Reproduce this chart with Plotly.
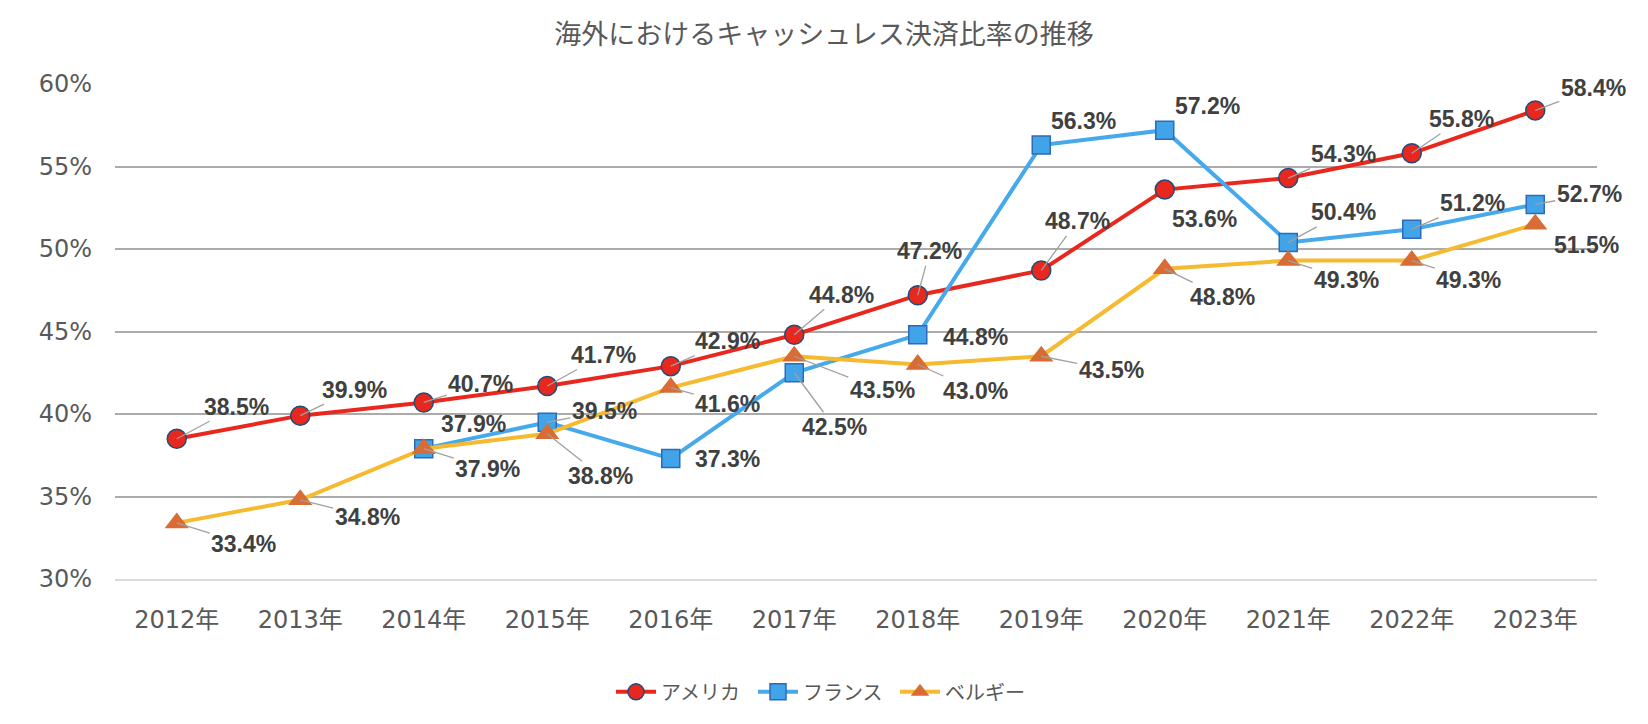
import plotly.graph_objects as go

# ---------------- data ----------------
years = ["2012年", "2013年", "2014年", "2015年", "2016年", "2017年",
         "2018年", "2019年", "2020年", "2021年", "2022年", "2023年"]
usa = [38.5, 39.9, 40.7, 41.7, 42.9, 44.8, 47.2, 48.7, 53.6, 54.3, 55.8, 58.4]
france = [None, None, 37.9, 39.5, 37.3, 42.5, 44.8, 56.3, 57.2, 50.4, 51.2, 52.7]
belgium = [33.4, 34.8, 37.9, 38.8, 41.6, 43.5, 43.0, 43.5, 48.8, 49.3, 49.3, 51.5]
series_names = ["アメリカ", "フランス", "ベルギー"]
y_ticks = [30, 35, 40, 45, 50, 55, 60]
y_tick_labels = ["30%", "35%", "40%", "45%", "50%", "55%", "60%"]
title_text = "海外におけるキャッシュレス決済比率の推移"

# ---------------- label placement (pixel offsets, leader-line flags) ----------------
usa_off = [(60, -32), (54, -26), (57, -18), (56, -31), (57, -25), (47, -40),
           (12, -44), (36, -49), (40, 29), (55, -24), (50, -34), (58, -22)]
usa_lead = [1, 1, 1, 1, 1, 1, 1, 1, 0, 1, 1, 1]
fr_off = [None, None, (50, -25), (57, -11), (57, 0), (40, 54), (58, 2),
          (42, -24), (43, -24), (55, -30), (61, -26), (54, -10)]
fr_lead = [0, 0, 0, 1, 0, 1, 0, 0, 0, 1, 1, 1]
be_off = [(67, 21), (67, 17), (64, 20), (53, 42), (57, 16), (88, 34), (58, 26),
          (70, 14), (58, 28), (58, 19), (57, 19), (51, 21)]
be_lead = [1, 1, 1, 1, 1, 1, 1, 1, 1, 1, 1, 0]

# ---------------- styles ----------------
RED, RED_EDGE = "#E8281E", "#1F4E79"
BLUE, BLUE_EDGE = "#41A4E8", "#2E6AB8"
YELLOW_LINE, ORANGE = "#F5BA30", "#D96B35"
LBL_FONT = dict(family="Liberation Sans, Arial, sans-serif", size=23, color="#404040")
TICK_FONT = dict(family="DejaVu Sans, Noto Sans CJK JP, sans-serif", size=24, color="#595959")
CJK = "Noto Sans CJK JP, sans-serif"

fig = go.Figure()
fig.add_trace(go.Scatter(
    x=years, y=usa, name=series_names[0], mode="lines+markers",
    line=dict(color=RED, width=4),
    marker=dict(symbol="circle", size=19, color=RED, line=dict(color=RED_EDGE, width=1.5)),
))
fig.add_trace(go.Scatter(
    x=years, y=france, name=series_names[1], mode="lines+markers",
    line=dict(color="#45A9EC", width=4),
    marker=dict(symbol="square", size=18, color=BLUE, line=dict(color=BLUE_EDGE, width=1.5)),
))
fig.add_trace(go.Scatter(
    x=years, y=belgium, name=series_names[2], mode="lines+markers",
    line=dict(color=YELLOW_LINE, width=4),
    marker=dict(symbol="triangle-up", size=21, color=ORANGE, line=dict(width=0)),
))

annotations = []
for vals, offs, leads in [(usa, usa_off, usa_lead), (france, fr_off, fr_lead),
                          (belgium, be_off, be_lead)]:
    for yr, v, off, lead in zip(years, vals, offs, leads):
        if v is None:
            continue
        annotations.append(dict(
            x=yr, y=v, xref="x", yref="y",
            text=f"<b>{v:.1f}%</b>",
            showarrow=True, arrowhead=0, standoff=0,
            arrowwidth=1.3,
            arrowcolor="#A0A0A0" if lead else "rgba(0,0,0,0)",
            ax=off[0], ay=off[1],
            font=LBL_FONT,
        ))

fig.update_layout(
    width=1648, height=724,
    margin=dict(l=115, r=51, t=84, b=145),
    paper_bgcolor="white", plot_bgcolor="white",
    title=dict(text=title_text, x=0.5, xref="container", xanchor="center",
               y=1 - 35 / 724, yref="container", yanchor="middle",
               font=dict(family=CJK, size=27, color="#595959")),
    xaxis=dict(type="category", range=[-0.5, 11.5], showgrid=False,
               showline=True, linecolor="#D9D9D9", linewidth=2,
               ticks="", tickfont=TICK_FONT, ticklabelstandoff=18, fixedrange=True),
    yaxis=dict(range=[30, 60], tickmode="array", tickvals=y_ticks, ticktext=y_tick_labels,
               showgrid=True, gridcolor="#ABABAB", gridwidth=1.6,
               zeroline=False, showline=False, ticks="",
               tickfont=TICK_FONT, ticklabelstandoff=22, fixedrange=True),
    legend=dict(orientation="h", x=(824 - 115) / 1482, xanchor="center",
                y=-0.228, yanchor="middle",
                font=dict(family=CJK, size=20, color="#595959"),
                itemwidth=40, entrywidth=87, entrywidthmode="pixels",
                tracegroupgap=0),
    annotations=annotations,
    hovermode=False,
    showlegend=True,
)

fig.write_html("out.html", config={"displayModeBar": False})
